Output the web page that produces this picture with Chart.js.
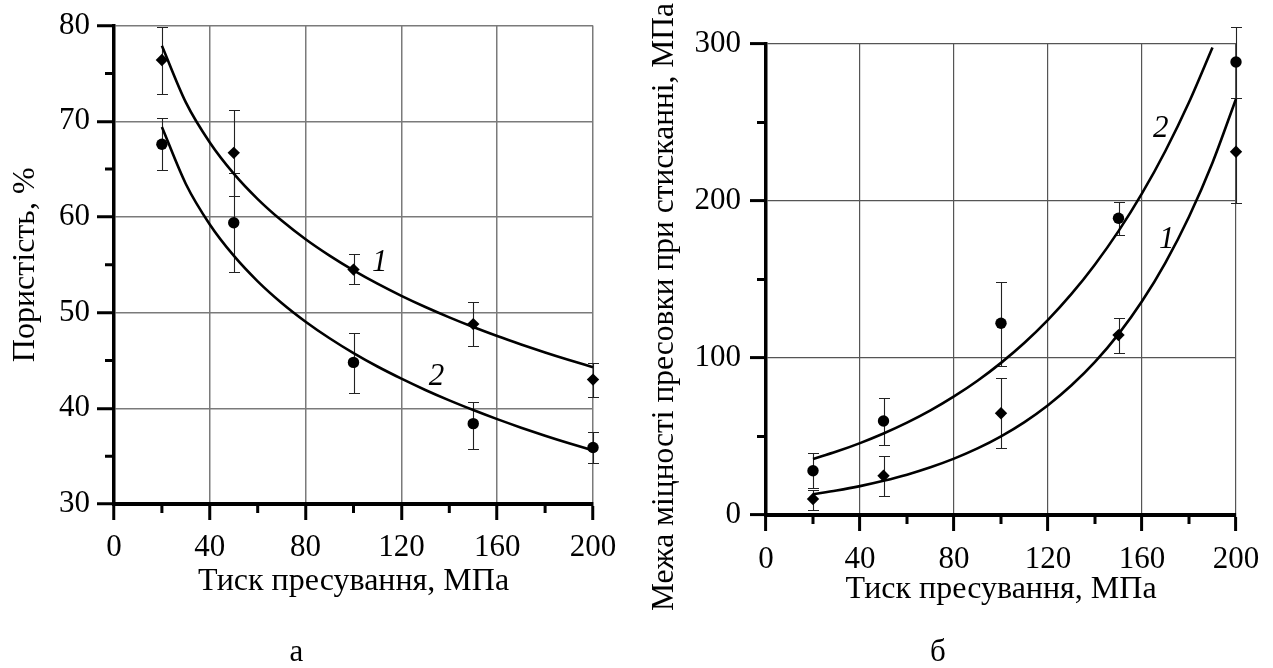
<!DOCTYPE html>
<html><head><meta charset="utf-8">
<script src="https://cdn.jsdelivr.net/npm/chart.js@4.4.0/dist/chart.umd.min.js"></script>
<style>
html,body{margin:0;padding:0;background:#fff;}
#wrap{position:relative;width:1273px;height:668px;overflow:hidden;}
#c1{position:absolute;left:0;top:0;}
#c2{position:absolute;left:640px;top:0;}
</style></head><body>
<div id="wrap"><canvas id="c1" width="640" height="668"></canvas><canvas id="c2" width="633" height="668"></canvas></div>
<script>
// ---------- data ----------
const pressure = [20, 50, 100, 150, 200];
const xTicks = [0, 40, 80, 120, 160, 200];
const xMinorTicks = [20, 60, 100, 140, 180];

// chart а : porosity, %
const poroTicks = [30, 40, 50, 60, 70, 80];
const poroMinorTicks = [35, 45, 55, 65, 75];
const poro1 = [76.4, 66.7, 54.5, 48.8, 43.0];
const poro1Lo = [72.8, 62.2, 53.0, 46.5, 41.2];
const poro1Hi = [79.9, 71.2, 56.1, 51.1, 44.7];
const poro2 = [67.6, 59.4, 44.8, 38.4, 35.9];
const poro2Lo = [64.9, 54.2, 41.6, 35.8, 34.3];
const poro2Hi = [70.3, 64.6, 47.9, 40.7, 37.5];
const poroCurveX = [20, 30, 40, 50, 60, 70, 80, 90, 100, 110, 120, 130, 140, 150, 160, 170, 180, 190, 200];
const poroCurve1 = [77.90, 71.98, 67.79, 64.53, 61.87, 59.62, 57.67, 55.96, 54.42, 53.03, 51.76, 50.59, 49.51, 48.50, 47.56, 46.68, 45.84, 45.05, 44.30];
const poroCurve2 = [69.40, 63.45, 59.22, 55.95, 53.27, 51.01, 49.05, 47.32, 45.77, 44.37, 43.10, 41.92, 40.83, 39.82, 38.87, 37.98, 37.14, 36.35, 35.60];

// chart б : compressive strength, MPa
const strTicks = [0, 100, 200, 300];
const strMinorTicks = [50, 150, 250];
const str1 = [10.2, 25.0, 64.8, 114.6, 231.4];
const str1Lo = [3.2, 12.3, 42.5, 103.4, 198.5];
const str1Hi = [15.9, 37.6, 87.1, 125.7, 265.4];
const str2 = [28.2, 59.9, 122.1, 189.0, 288.5];
const str2Lo = [17.0, 44.8, 94.9, 178.3, 265.4];
const str2Hi = [39.7, 74.7, 148.6, 199.6, 310.6];
const strCurve1X = [20, 30, 40, 50, 60, 70, 80, 90, 100, 110, 120, 130, 140, 150, 160, 170, 180, 190, 200];
const strCurve1 = [13.2, 15.6, 18.4, 21.8, 25.7, 30.4, 35.9, 42.4, 50.1, 59.2, 69.9, 82.6, 97.5, 115.2, 136.1, 160.8, 190.0, 224.4, 265.0];
const strCurve2X = [20, 30, 40, 50, 60, 70, 80, 90, 100, 110, 120, 130, 140, 150, 160, 170, 180, 190];
const strCurve2 = [35.7, 40.4, 45.8, 51.9, 58.8, 66.6, 75.5, 85.5, 96.9, 109.7, 124.3, 140.8, 159.6, 180.8, 204.8, 232.0, 262.9, 297.8];

const xTitle = 'Тиск пресування, МПа';
const poroTitle = 'Пористість, %';
const strTitle = 'Межа міцності пресовки при стисканні, МПа';

// ---------- helpers ----------
const FONT = "'Liberation Serif', 'Times New Roman', serif";
const pts = (xs, ys) => xs.map((x, i) => ({x: x, y: ys[i]}));

function curveDs(xs, ys) {
  return {data: pts(xs, ys), showLine: true, borderColor: '#000', borderWidth: 2.6,
    pointRadius: 0, tension: 0.4, cubicInterpolationMode: 'monotone', clip: false};
}
function markDs(xs, ys, style) {
  return {data: pts(xs, ys), showLine: false, pointStyle: style, pointRadius: style === 'circle' ? 5.7 : 6.2,
    backgroundColor: '#000', borderColor: '#000', borderWidth: 0, clip: false};
}

function decorPlugin(o) {
  return {
    id: 'decor',
    beforeDatasetsDraw(chart) {
      const {ctx, scales: {x, y}} = chart;
      ctx.save();
      ctx.strokeStyle = '#222'; ctx.lineWidth = 1.1;
      o.errors.forEach(set => {
        set.xs.forEach((xv, i) => {
          const px = Math.round(x.getPixelForValue(xv)) + 0.5;
          const p1 = Math.round(y.getPixelForValue(set.lo[i])) + 0.5;
          const p2 = Math.round(y.getPixelForValue(set.hi[i])) + 0.5;
          ctx.beginPath();
          ctx.moveTo(px, p1); ctx.lineTo(px, p2);
          ctx.moveTo(px - 5.5, p1); ctx.lineTo(px + 5.5, p1);
          ctx.moveTo(px - 5.5, p2); ctx.lineTo(px + 5.5, p2);
          ctx.stroke();
        });
      });
      ctx.restore();
    },
    afterDraw(chart) {
      const {ctx, chartArea, scales: {x, y}} = chart;
      ctx.save();
      ctx.strokeStyle = '#000'; ctx.lineWidth = 3;
      ctx.beginPath();
      o.xMinor.forEach(v => { const px = x.getPixelForValue(v); ctx.moveTo(px, chartArea.bottom); ctx.lineTo(px, chartArea.bottom + 9); });
      o.yMinor.forEach(v => { const py = y.getPixelForValue(v); ctx.moveTo(chartArea.left - 9, py); ctx.lineTo(chartArea.left, py); });
      ctx.stroke();
      ctx.fillStyle = '#000';
      ctx.font = 'italic 31px ' + FONT;
      ctx.textAlign = 'center'; ctx.textBaseline = 'middle';
      o.labels.forEach(l => ctx.fillText(l.text, x.getPixelForValue(l.x), y.getPixelForValue(l.y)));
      if (o.yTitle) {
        ctx.font = '31.5px ' + FONT;
        ctx.translate(o.yTitle.cx, o.yTitle.cy);
        ctx.rotate(-Math.PI / 2);
        ctx.fillText(o.yTitle.text, 0, 0);
      }
      ctx.restore();
    }
  };
}

function axisX(xTitleText, height, tickPad, gridColor, gridWidth) {
  return {
    type: 'linear', min: 0, max: 200,
    afterBuildTicks: s => { s.ticks = xTicks.map(v => ({value: v})); },
    afterFit: s => { s.height = height; },
    ticks: {color: '#000', font: {family: FONT, size: 31}, padding: tickPad, maxRotation: 0, autoSkip: false},
    grid: {color: gridColor, lineWidth: gridWidth, tickColor: '#000', tickWidth: 3, tickLength: 16},
    border: {display: true, color: '#000', width: 4},
    title: {display: true, text: xTitleText, color: '#000', font: {family: FONT, size: 32}, padding: {top: 0, bottom: 0}}
  };
}

// ---------- chart а ----------
new Chart(document.getElementById('c1'), {
  type: 'scatter',
  data: {datasets: [
    curveDs(poroCurveX, poroCurve1),
    curveDs(poroCurveX, poroCurve2),
    markDs(pressure, poro1, 'rectRot'),
    markDs(pressure, poro2, 'circle')
  ]},
  options: {
    responsive: false, animation: false, events: [],
    layout: {padding: {left: 0, top: 24, right: 47, bottom: 0}},
    plugins: {
      legend: {display: false}, tooltip: {enabled: false},
      title: {display: true, text: 'а', position: 'bottom', color: '#000',
        font: {family: FONT, size: 31, weight: 'normal', lineHeight: 1}, padding: {top: 35.8, bottom: 0}}
    },
    scales: {
      x: axisX(xTitle, 97.2, 9, '#7a7a7a', 1.5),
      y: {
        type: 'linear', min: 30, max: 80,
        afterBuildTicks: s => { s.ticks = poroTicks.map(v => ({value: v})); },
        afterFit: s => { s.width = 114; },
        ticks: {color: '#000', font: {family: FONT, size: 31}, padding: 7},
        grid: {color: '#7a7a7a', lineWidth: 1.5, tickColor: '#000', tickWidth: 3, tickLength: 17},
        border: {display: true, color: '#000', width: 3.5},
        title: {display: true, text: poroTitle, color: '#000', font: {family: FONT, size: 32}, padding: {top: 6, bottom: 0}}
      }
    }
  },
  plugins: [decorPlugin({
    errors: [{xs: pressure, lo: poro1Lo, hi: poro1Hi}, {xs: pressure, lo: poro2Lo, hi: poro2Hi}],
    xMinor: xMinorTicks, yMinor: poroMinorTicks,
    labels: [{text: '1', x: 111, y: 55.2}, {text: '2', x: 134.7, y: 43.3}]
  })]
});

// ---------- chart б ----------
new Chart(document.getElementById('c2'), {
  type: 'scatter',
  data: {datasets: [
    curveDs(strCurve1X, strCurve1),
    curveDs(strCurve2X, strCurve2),
    markDs(pressure, str1, 'rectRot'),
    markDs(pressure, str2, 'circle')
  ]},
  options: {
    responsive: false, animation: false, events: [],
    layout: {padding: {left: 0, top: 44, right: 37, bottom: 0}},
    plugins: {
      legend: {display: false}, tooltip: {enabled: false},
      title: {display: true, text: 'б', position: 'bottom', color: '#000',
        font: {family: FONT, size: 31, weight: 'normal', lineHeight: 1}, padding: {top: 27.8, bottom: 0}}
    },
    scales: {
      x: axisX(xTitle, 94.2, 10, '#555', 1.2),
      y: {
        type: 'linear', min: 0, max: 300,
        afterBuildTicks: s => { s.ticks = strTicks.map(v => ({value: v})); },
        afterFit: s => { s.width = 126; },
        ticks: {color: '#000', font: {family: FONT, size: 31}, padding: 9},
        grid: {color: '#555', lineWidth: 1.2, tickColor: '#000', tickWidth: 3, tickLength: 16},
        border: {display: true, color: '#000', width: 3.5},
        title: {display: false}
      }
    }
  },
  plugins: [decorPlugin({
    errors: [{xs: pressure, lo: str1Lo, hi: str1Hi}, {xs: pressure, lo: str2Lo, hi: str2Hi}],
    xMinor: xMinorTicks, yMinor: strMinorTicks,
    labels: [{text: '2', x: 168, y: 246}, {text: '1', x: 170.5, y: 175}],
    yTitle: {text: strTitle, cx: 25, cy: 307}
  })]
});
</script>
</body></html>
